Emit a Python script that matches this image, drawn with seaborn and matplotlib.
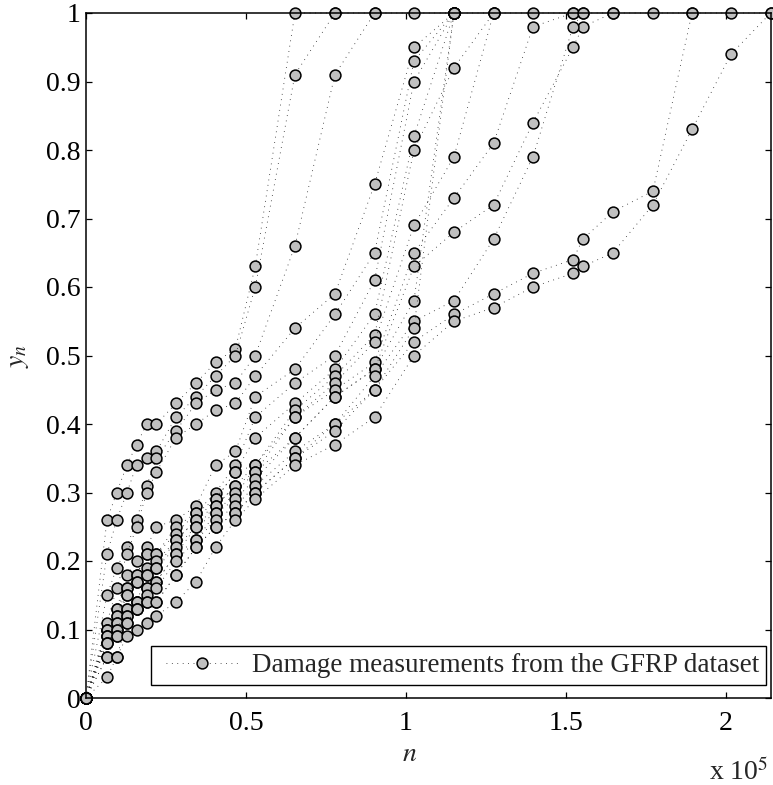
import numpy as np
import pandas as pd
import matplotlib
matplotlib.use("Agg")
import matplotlib.pyplot as plt
import seaborn as sns
from matplotlib.lines import Line2D
from matplotlib.legend_handler import HandlerLine2D

nan = np.nan

# common measurement times (cycles)
cycles = [0, 6560, 9600, 12800, 15800, 19000, 22000, 28100, 34400, 40500, 46700,
          52900, 65300, 77800, 90200, 102500, 115000, 127400, 139700, 152200,
          155300, 164700, 177200, 189400, 201600, 214000]

# damage measurements y_n per specimen (nan = no measurement)
spec_A = [0, .26, .30, .34, .37, .40, .40, .43, .46, .49, .51, .63, 1, 1, 1, 1, 1, 1, 1, 1, 1, 1, 1, 1, 1, 1]
spec_B = [0, .21, .26, .30, .34, .35, .36, .41, .44, .47, .50, .60, .91, 1] + [nan] * 12
spec_C = [0, .15, .19, .22, .26, .31, .35, .39, .43, .45, .46, .50, .66, .91, 1] + [nan] * 11
spec_D = [0, .11, .16, .21, .25, .30, .33, .38, .40, .42, .43, .47, .54, .59, .75, .95, 1] + [nan] * 9
spec_E = [0, .10, .13, .18, .20, .22, .25, .26, .28, .34, .36, .44, .48, .56, .65, .93, 1] + [nan] * 9
spec_F = [0, .10, .13, .16, .18, .21, .21, .25, .27, .30, .34, .41, .46, .50, .61, .90, 1] + [nan] * 9
spec_G = [0, .10, .12, .16, .18, .21, .21, .24, .27, .29, .33, .38, .43, .48, .56, .82, 1] + [nan] * 9
spec_H = [0, .09, .12, .15, .17, .19, .20, .23, .26, .29, .33, .34, .42, .47, .53, .80, .92, 1] + [nan] * 8
spec_I = [0, .09, .11, .15, .17, .18, .19, .23, .26, .28, .31, .34, .41, .46, .52, .69, .79, 1] + [nan] * 8
spec_J = [0, .09, .11, .13, .14, .18, .19, .22, .25, .28, .31, .33, .41, .45, .49, .65, .73, .81, .98, 1] + [nan] * 6
spec_K = [0, .08, .10, .13, .14, .16, .17, .21, .25, .27, .30, .33, .38, .44, .48, .63, .68, .72, .84, .95, .98, 1] + [nan] * 4
spec_L = [0, .08, .10, .12, .14, .16, .17, .21, .23, .27, .29, .32, .38, .44, .48, .58, 1] + [nan] * 9
spec_M = [0, .08, .09, .12, .13, .15, .16, .20, .23, .26, .28, .31, .36, .40, .47, .55, .58, .67, .79, .98, 1] + [nan] * 5
spec_N = [0, .06, .09, .11, .13, .14, .14, .18, .22, .25, .27, .30, .35, .40, .45, .54, 1] + [nan] * 9
spec_O = [0, .06, .06, .11, .13, .14, .14, .18, .22, .25, .27, .30, .35, .39, .45, .52, .56, .59, .62, .64, .67, .71, .74, 1] + [nan] * 2
spec_P = [0, .03, .06, .09, .10, .11, .12, .14, .17, .22, .26, .29, .34, .37, .41, .50, .55, .57, .60, .62, .63, .65, .72, .83, .94, 1]

specimens = {"A": spec_A, "B": spec_B, "C": spec_C, "D": spec_D, "E": spec_E, "F": spec_F,
             "G": spec_G, "H": spec_H, "I": spec_I, "J": spec_J, "K": spec_K, "L": spec_L,
             "M": spec_M, "N": spec_N, "O": spec_O, "P": spec_P}

x_ticks = [0, 50000, 100000, 150000, 200000]
x_tick_labels = ["0", "0.5", "1", "1.5", "2"]
y_ticks = [0, .1, .2, .3, .4, .5, .6, .7, .8, .9, 1]
y_tick_labels = ["0", "0.1", "0.2", "0.3", "0.4", "0.5", "0.6", "0.7", "0.8", "0.9", "1"]
legend_label = "Damage measurements from the GFRP dataset"

frames = []
for name, vals in specimens.items():
    frames.append(pd.DataFrame({"n": cycles, "y": vals, "specimen": name}))
df = pd.concat(frames, ignore_index=True).dropna()

sns.set_style("ticks")
plt.rcParams["font.family"] = ["Liberation Serif", "DejaVu Serif"]
plt.rcParams["mathtext.fontset"] = "stix"

W, H = 773, 785
fig = plt.figure(figsize=(W / 100, H / 100), dpi=100)
x0, x1, ytop, ybot = 86, 770.7, 13, 698
ax = fig.add_axes([x0 / W, (H - ybot) / H, (x1 - x0) / W, (ybot - ytop) / H])

dots = (0, (1, 5.5))
mk = dict(marker="o", markersize=7.8, markerfacecolor="#c0c0c0",
          markeredgecolor="black", markeredgewidth=1.1)

sns.lineplot(data=df, x="n", y="y", units="specimen", estimator=None, sort=False,
             color="#222222", linewidth=0.6, linestyle=dots, legend=False,
             clip_on=False, ax=ax, **mk)

ax.set_xlim(0, 214000)
ax.set_ylim(0, 1)
ax.set_xticks(x_ticks)
ax.set_xticklabels(x_tick_labels)
ax.set_yticks(y_ticks)
ax.set_yticklabels(y_tick_labels)
ax.tick_params(direction="in", length=4.5, width=0.9, labelsize=20, top=True, right=True,
               color="black", labelcolor="black")
ax.tick_params(axis="x", pad=9)
ax.tick_params(axis="y", pad=4)
for s in ax.spines.values():
    s.set_visible(True)
    s.set_linewidth(1.1)
    s.set_color("black")
ax.grid(False)

ax.set_xlabel("$n$", fontsize=20)
ax.xaxis.set_label_coords(0.472, -0.083)
ax.xaxis.label.set_va("center")
ax.set_ylabel("$y_n$", fontsize=20)
ax.yaxis.set_label_coords(-0.099, 0.5)
ax.yaxis.label.set_va("center")

fig.text(768 / W, 1 - 780 / H, "x 10$^5$", fontsize=20, ha="right", va="baseline")

handle = Line2D([0], [0], color="#222222", linewidth=0.6, linestyle=dots, **mk)
leg = ax.legend([handle], [legend_label], loc="lower right", bbox_to_anchor=(0.993, 0.019),
                borderaxespad=0, fontsize=19.5, numpoints=1, handlelength=3.0,
                handletextpad=0.47, borderpad=0.25, fancybox=False, framealpha=1,
                edgecolor="black", handler_map={Line2D: HandlerLine2D(xpad=0.29)})
leg.get_frame().set_linewidth(1.0)

fig.savefig("out.png", dpi=100)
